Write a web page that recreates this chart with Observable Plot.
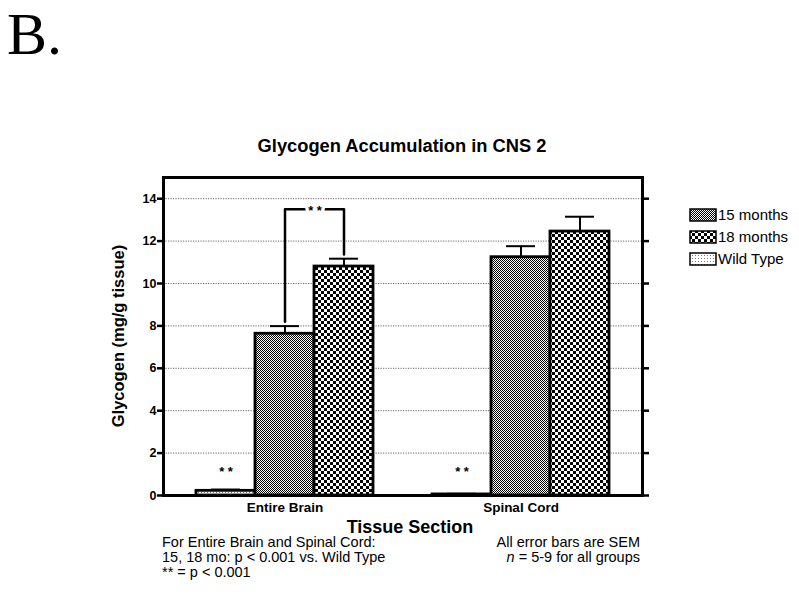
<!DOCTYPE html>
<html><head><meta charset="utf-8">
<script src="https://cdn.jsdelivr.net/npm/d3@7"></script>
<script src="https://cdn.jsdelivr.net/npm/@observablehq/plot@0.6"></script>
<style>
body{margin:0;background:#fff;color:#000;}
#wrap{position:relative;width:799px;height:596px;overflow:hidden;font-family:"Liberation Sans",Arial,sans-serif;color:#000;}
.abs{position:absolute;white-space:nowrap;line-height:1;}
#plot{position:absolute;left:0;top:0;}
.sw{display:inline-block;vertical-align:middle;}
</style></head><body>
<svg width="0" height="0" style="position:absolute">
<defs>
<pattern id="p15" width="2" height="2" patternUnits="userSpaceOnUse"><rect width="2" height="2" fill="#fff"/><rect width="1" height="1" fill="#000"/><rect x="1" y="1" width="1" height="1" fill="#000"/></pattern>
<pattern id="p18" width="6" height="6" patternUnits="userSpaceOnUse"><rect width="6" height="6" fill="#fff"/><rect width="3" height="3" fill="#000"/><rect x="3" y="3" width="3" height="3" fill="#000"/></pattern>
<pattern id="pWT" width="3" height="3" patternUnits="userSpaceOnUse"><rect width="3" height="3" fill="#fff"/><rect width="1" height="1" fill="#777"/></pattern>
</defs></svg>
<div id="wrap">
  <div id="plot"></div>
  <div class="abs" style="left:7px;top:4px;font-family:'Liberation Serif','Times New Roman',serif;font-size:60px;">B.</div>
  <div class="abs" style="left:402px;top:136.5px;transform:translateX(-50%);font-size:18.3px;font-weight:bold;">Glycogen Accumulation in CNS 2</div>
  <div class="abs" style="left:118px;top:336px;transform:translate(-50%,-50%) rotate(-90deg);font-size:16.5px;font-weight:bold;">Glycogen (mg/g tissue)</div>
  <div class="abs" style="left:410px;top:518px;transform:translateX(-50%);font-size:18px;font-weight:bold;">Tissue Section</div>
  <div id="legend"></div>
  <div class="abs" style="left:162px;top:535px;font-size:14.5px;line-height:15px;">For Entire Brain and Spinal Cord:<br>15, 18 mo: p &lt; 0.001 vs. Wild Type<br>** = p &lt; 0.001</div>
  <div class="abs" style="right:159px;top:535px;font-size:14.5px;line-height:15px;text-align:right;">All error bars are SEM<br><i>n</i> = 5-9 for all groups</div>
</div>
<script>
const tissues = ["Entire Brain", "Spinal Cord"];
const groups = ["Wild Type", "15 months", "18 months"];
const legendOrder = ["15 months", "18 months", "Wild Type"];
const wildType = [0.22, 0.05];
const wildTypeSem = [0.06, 0.03];
const months15 = [7.63, 11.24];
const months15Sem = [0.36, 0.52];
const months18 = [10.8, 12.45];
const months18Sem = [0.37, 0.70];
const yTicks = [0, 2, 4, 6, 8, 10, 12, 14];
const yMax = 15;
// significance bracket (Entire Brain, 15 vs 18 months)
const bracketTissue = "Entire Brain";
const bracketTop = 13.5;
const bracketLeftEnd = 8.2;
const bracketRightEnd = 11.37;
const starLevel = 1.2;
const patterns = {"Wild Type": "url(#pWT)", "15 months": "url(#p15)", "18 months": "url(#p18)"};

const key = (t, g) => t + "|" + g;
const series = {"Wild Type": [wildType, wildTypeSem], "15 months": [months15, months15Sem], "18 months": [months18, months18Sem]};
const rows = [];
tissues.forEach((t, i) => groups.forEach(g => rows.push({tissue: t, group: g, key: key(t, g), value: series[g][0][i], sem: series[g][1][i]})));
const xDomain = [...groups.map(g => key(tissues[0], g)), "gap", ...groups.map(g => key(tissues[1], g))];
const tickKeys = tissues.map(t => key(t, "15 months"));
const bracketPts = [
  {x: key(bracketTissue, "15 months"), y: bracketLeftEnd},
  {x: key(bracketTissue, "15 months"), y: bracketTop},
  {x: key(bracketTissue, "18 months"), y: bracketTop},
  {x: key(bracketTissue, "18 months"), y: bracketRightEnd}
];
const stars = [
  {x: key(bracketTissue, "15 months"), y: bracketTop},
  ...tissues.map(t => ({x: key(t, "Wild Type"), y: starLevel}))
];

const font = "Liberation Sans, Arial, sans-serif";
const chart = Plot.plot({
  width: 799, height: 596,
  marginTop: 177, marginBottom: 101, marginLeft: 163, marginRight: 157,
  style: {fontFamily: font, background: "transparent", color: "black", overflow: "visible"},
  x: {domain: xDomain, paddingInner: 0, paddingOuter: 0.5, label: null},
  y: {domain: [0, yMax], label: null},
  marks: [
    Plot.ruleY(yTicks.filter(d => d > 0), {stroke: "#666", strokeDasharray: "1.2,1.3", strokeWidth: 1}),
    ...groups.map(g => Plot.barY(rows.filter(r => r.group === g), {x: "key", y: "value", fill: patterns[g], stroke: "black", strokeWidth: 2.8})),
    Plot.ruleX(rows, {x: "key", y1: "value", y2: d => d.value + d.sem, stroke: "black", strokeWidth: 2}),
    Plot.tickY(rows, {x: "key", y: d => d.value + d.sem, stroke: "black", strokeWidth: 2, insetLeft: 15, insetRight: 15}),
    Plot.line(bracketPts, {x: "x", y: "y", stroke: "black", strokeWidth: 2.5}),
    Plot.text([stars[0]], {x: "x", y: "y", text: () => "* *", dx: 30, dy: 2, fontSize: 13, fontWeight: "bold", fill: "black", stroke: "white", strokeWidth: 6, paintOrder: "stroke"}),
    Plot.text(stars.slice(1), {x: "x", y: "y", text: () => "* *", dy: 2, fontSize: 13, fontWeight: "bold", fill: "black"}),
    Plot.axisY({ticks: yTicks, tickSize: 6, tickPadding: 1, fontSize: 12.5, fontWeight: "bold", strokeWidth: 2.5, label: null}),
    Plot.axisY({anchor: "right", ticks: yTicks, tickSize: 6, tickFormat: () => "", strokeWidth: 2.5, label: null}),
    Plot.axisX({ticks: tickKeys, tickFormat: d => d.split("|")[0], tickSize: 0, tickPadding: 7, fontSize: 13.5, fontWeight: "bold", label: null}),
    Plot.frame({stroke: "black", strokeWidth: 3})
  ]
});
document.getElementById("plot").appendChild(chart);

const legend = document.getElementById("legend");
legendOrder.forEach((g, i) => {
  const d = document.createElement("div");
  d.className = "abs";
  d.style.cssText = `left:689px;top:${214 + i * 22 - 8}px;font-size:15px;line-height:16px;`;
  d.innerHTML = `<svg class="sw" width="28" height="14"><rect x="1" y="1" width="26" height="12" fill="${patterns[g]}" stroke="black" stroke-width="1.5"/></svg><span style="vertical-align:middle;margin-left:1px">${g}</span>`;
  legend.appendChild(d);
});
</script>
</body></html>
